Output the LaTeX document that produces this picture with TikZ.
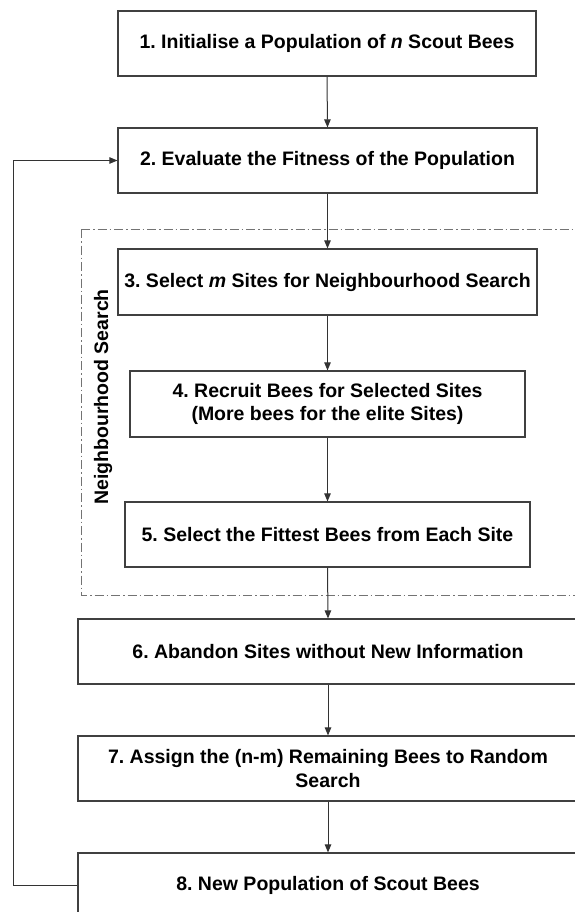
\documentclass[tikz,border=0pt]{standalone}
\usepackage{fontspec}
\setmainfont{Liberation Sans}
\usetikzlibrary{arrows.meta}
\frenchspacing
\begin{document}
\begin{tikzpicture}[x=1pt,y=-1pt,
  stepbox/.style={draw=black!75, line width=1.2pt, fill=white, align=center, inner sep=0pt,
    font=\fontsize{19.5}{23.5}\selectfont\bfseries},
  arr/.style={draw=black!80, line width=1pt, -{Triangle[length=8pt,width=6.5pt]}},
  grp/.style={draw=black!55, line width=1pt, dash pattern=on 9pt off 3pt on 1.5pt off 3pt}]
\useasboundingbox (0,0) rectangle (575,912);
\clip (0,0) rectangle (575,912);
\fill[white] (0,0) rectangle (575,912);
\draw[grp] (81,229) -- (590,229) (81,229) -- (81,595) -- (590,595);
\node[stepbox, minimum width=418pt, minimum height=65pt] (b1) at (327,43.5) {1. Initialise a Population of \textit{n} Scout Bees};
\node[stepbox, minimum width=419pt, minimum height=65pt] (b2) at (327.5,160.5) {2. Evaluate the Fitness of the Population};
\node[stepbox, minimum width=419pt, minimum height=66pt] (b3) at (327.5,282) {3. Select \textit{m} Sites for Neighbourhood Search};
\node[stepbox, minimum width=395pt, minimum height=66pt] (b4) at (327.5,404) {4. Recruit Bees for Selected Sites\\(More bees for the elite Sites)};
\node[stepbox, minimum width=405pt, minimum height=65pt] (b5) at (327.5,534.5) {5. Select the Fittest Bees from Each Site};
\node[stepbox, minimum width=500pt, minimum height=65pt] (b6) at (328,651.5) {6. Abandon Sites without New Information};
\node[stepbox, minimum width=500pt, minimum height=65pt] (b7) at (328,768.5) {7. Assign the (n-m) Remaining Bees to Random\\Search};
\node[stepbox, minimum width=500pt, minimum height=64pt] (b8) at (328,885) {8. New Population of Scout Bees};
\node[rotate=90, font=\fontsize{19.5}{23.5}\selectfont\bfseries] (lbl) at (103,397) {Neighbourhood Search};
\coordinate (c1) at (13,885);
\coordinate (c2) at (13,160.5);
\draw[arr] (b1.south) -- (b2.north);
\draw[arr] (b2.south) -- (b3.north);
\draw[arr] (b3.south) -- (b4.north);
\draw[arr] (b4.south) -- (b5.north);
\draw[arr] (b5.south) -- (b6.north);
\draw[arr] (b6.south) -- (b7.north);
\draw[arr] (b7.south) -- (b8.north);
\draw[arr] (b8.west) -- (c1) -- (c2) -- (b2.west);
\end{tikzpicture}
\end{document}
